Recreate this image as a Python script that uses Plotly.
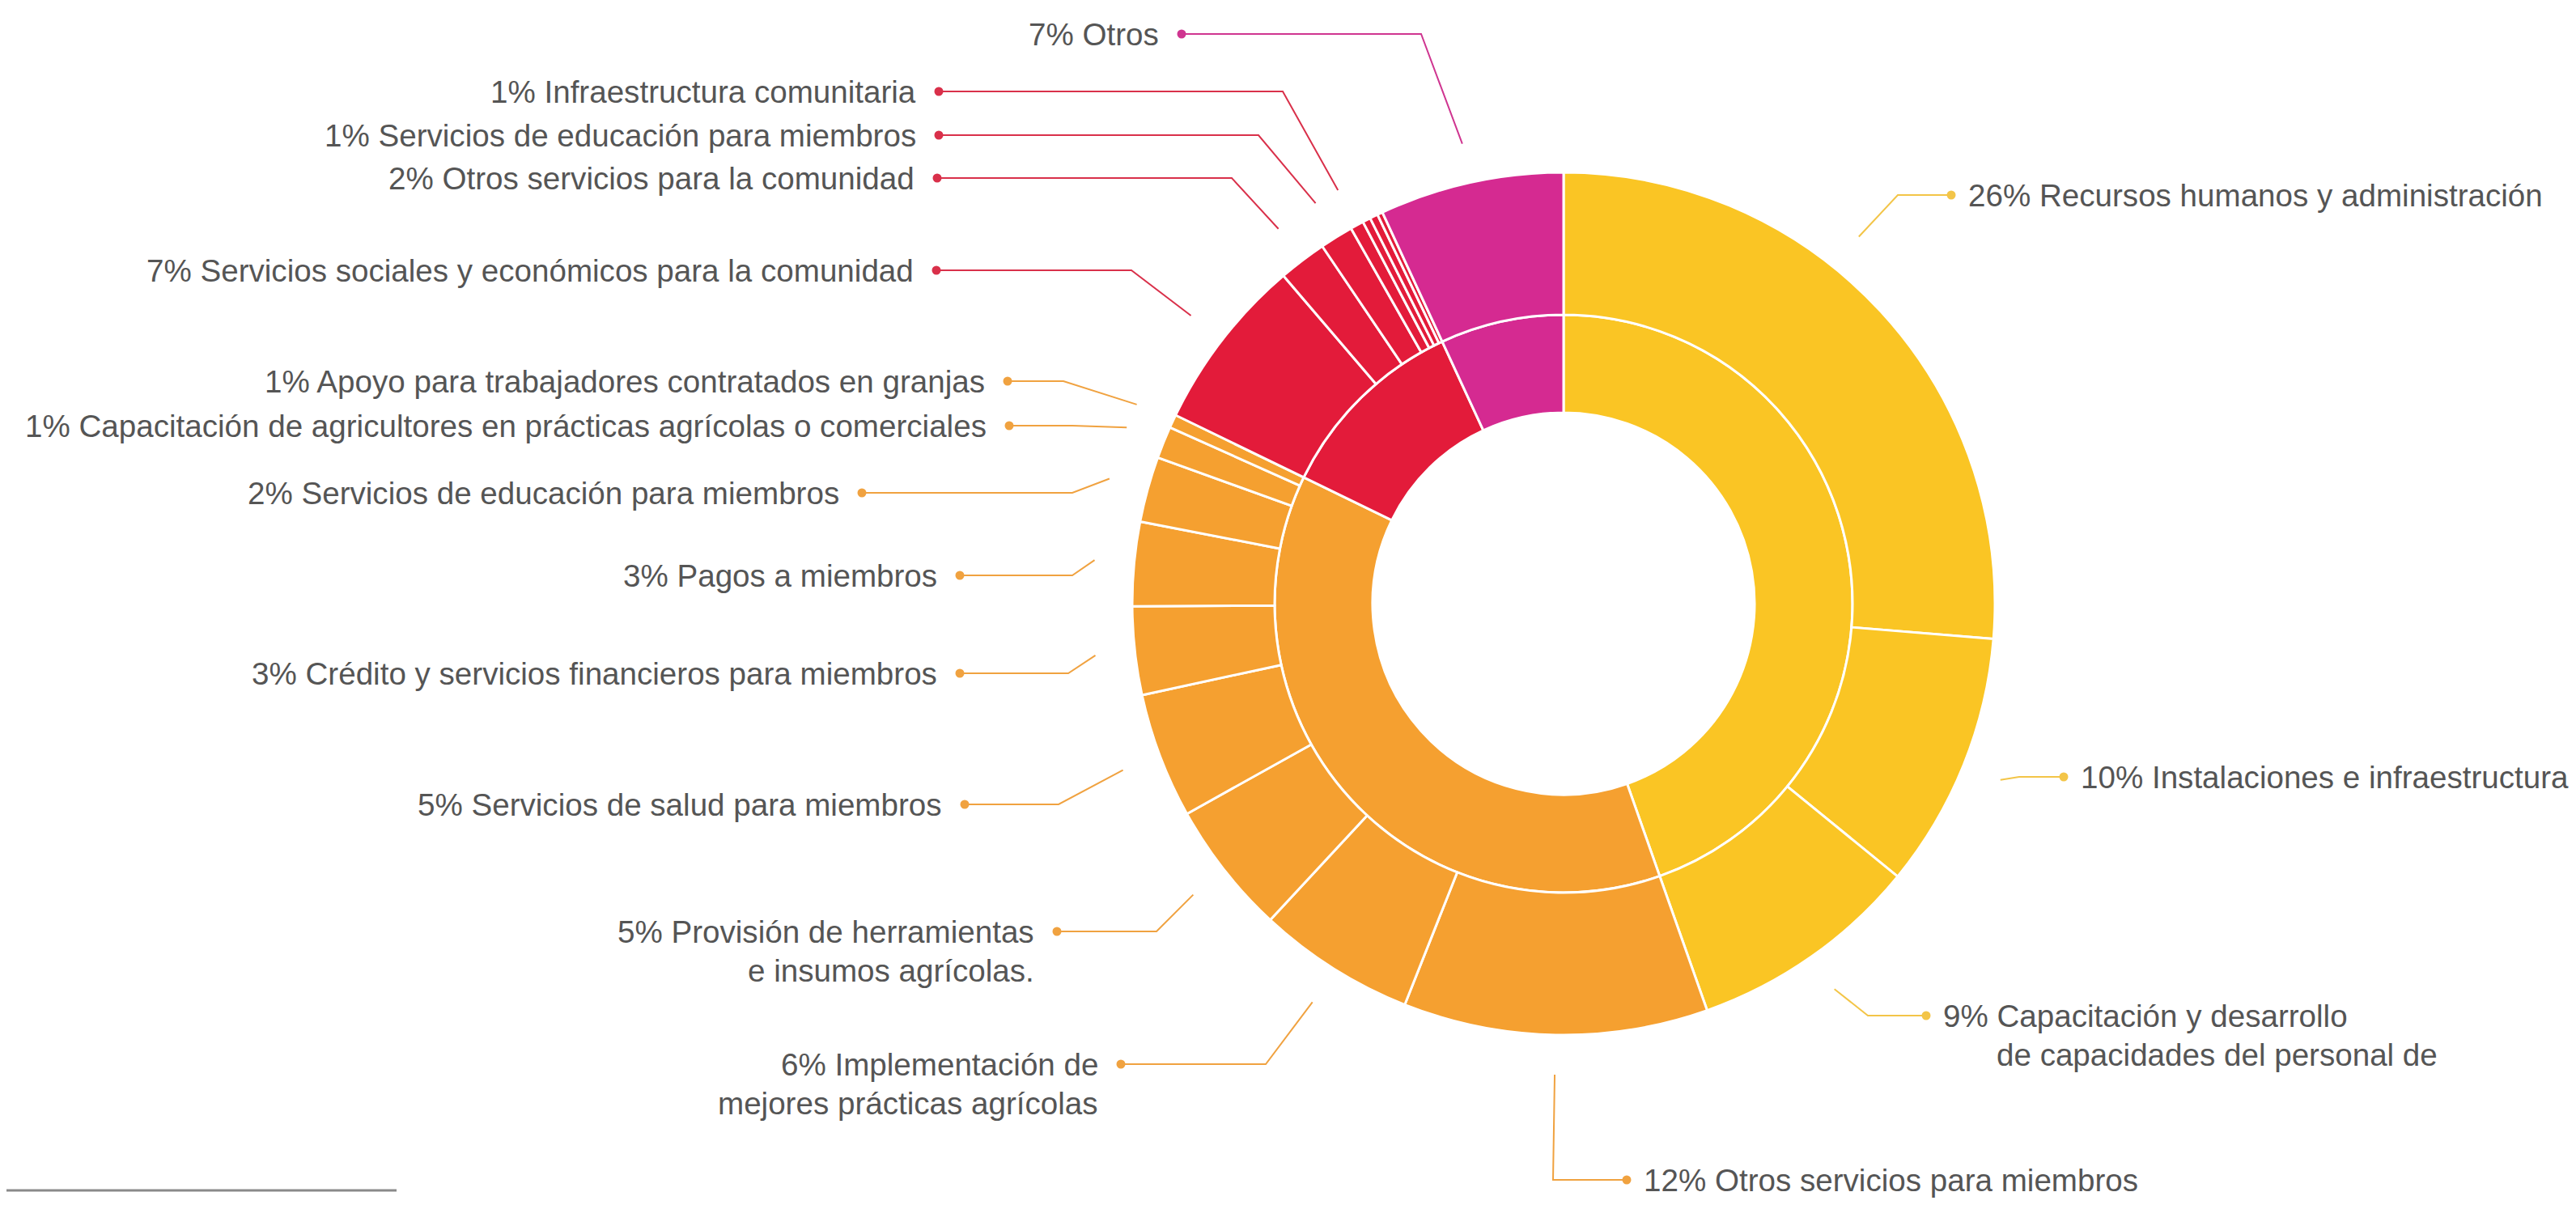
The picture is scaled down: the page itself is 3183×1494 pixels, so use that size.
import math
import plotly.graph_objects as go

# ---------------- data ----------------
GROUP_NAMES = ["Administración", "Servicios para miembros", "Servicios para la comunidad", "Otros"]
GROUP_VALUES = [44.6, 37.6, 10.9, 6.9]

SUB_GROUP = [0, 0, 0,
             1, 1, 1, 1, 1, 1, 1, 1, 1,
             2, 2, 2, 2, 2, 2, 2,
             3]
SUB_VALUES = [26.3, 9.6, 8.7,
              11.4, 5.9, 5.0, 4.7, 3.3, 3.15, 2.45, 1.2, 0.5,
              6.55, 1.8, 1.25, 0.5, 0.3, 0.3, 0.2,
              6.9]
SUB_LABELS = [
    "26% Recursos humanos y administración",
    "10% Instalaciones e infraestructura",
    "9% Capacitación y desarrollo|de capacidades del personal de",
    "12% Otros servicios para miembros",
    "6% Implementación de|mejores prácticas agrícolas",
    "5% Provisión de herramientas|e insumos agrícolas.",
    "5% Servicios de salud para miembros",
    "3% Crédito y servicios financieros para miembros",
    "3% Pagos a miembros",
    "2% Servicios de educación para miembros",
    "1% Capacitación de agricultores en prácticas agrícolas o comerciales",
    "1% Apoyo para trabajadores contratados en granjas",
    "7% Servicios sociales y económicos para la comunidad",
    "2% Otros servicios para la comunidad",
    "1% Servicios de educación para miembros",
    "1% Infraestructura comunitaria",
    "", "", "",
    "7% Otros",
]

# ---------------- styles / layout ----------------
W, H = 3183, 1494          # browser window
OFF = 8                    # default page (body) margin
FW, FH = W - OFF, H - OFF  # figure size
CX, CY = 1932, 746         # ring centre, page pixels
R_OUT, R_MID, R_HOLE = 533, 357, 236
R_LEADER = 582
GROUP_COLORS = ["#FAC524", "#F5A030", "#E31B3A", "#D52A91"]
LINE_COLORS = ["#F3C548", "#F0A240", "#D9304A", "#CF3590"]
TEXT_COLOR = "#555555"
FONT = "Liberation Sans, Arial, Helvetica, sans-serif"
FONT_SIZE = 38.6
LINE_GAP = 48
PAD_L, PAD_R = 26, 19

# index -> (side, label y px, dot x px, elbow x px, anchor fraction in slice, 2nd-line indent px)
LABEL_LAYOUT = {
    0: ("R", 241, 2411, 2345, 0.41, 0),
    1: ("R", 960, 2550, 2495, 0.5, 0),
    2: ("R", 1255, 2380, 2308, 0.5, 66),
    3: ("R", 1458, 2010, 1919, 0.5, 0),
    4: ("L", 1315, 1385, 1564, 0.5, 0),
    5: ("L", 1151, 1306, 1429, 0.5, 0),
    6: ("L", 994, 1192, 1308, 0.5, 0),
    7: ("L", 832, 1186, 1320, 0.5, 0),
    8: ("L", 711, 1186, 1325, 0.5, 0),
    9: ("L", 609, 1065, 1325, 0.5, 0),
    10: ("L", 526, 1247, 1325, 0.5, 0),
    11: ("L", 471, 1245, 1314, 0.5, 0),
    12: ("L", 334, 1157, 1398, 0.5, 0),
    13: ("L", 220, 1158, 1522, 0.5, 0),
    14: ("L", 167, 1160, 1555, 0.5, 0),
    15: ("L", 113, 1160, 1585, 0.5, 0),
    19: ("L", 42, 1460, 1756, 0.5, 0),
}


def domain(r):
    x0, x1 = CX - r - OFF, CX + r - OFF
    y0, y1 = CY - r - OFF, CY + r - OFF
    return dict(x=[x0 / FW, x1 / FW], y=[1 - y1 / FH, 1 - y0 / FH])


fig = go.Figure()

# inner ring (groups)
fig.add_trace(go.Pie(
    values=GROUP_VALUES, labels=GROUP_NAMES, sort=False, direction="clockwise", rotation=0,
    hole=R_HOLE / R_MID, domain=domain(R_MID), textinfo="none", showlegend=False,
    marker=dict(colors=GROUP_COLORS, line=dict(color="white", width=3)),
    hovertemplate="%{label}: %{value}%<extra></extra>",
))

# outer ring (subcategories)
sub_ids = [f"{i + 1}. {(SUB_LABELS[i] or GROUP_NAMES[g]).replace('|', ' ')}" for i, g in enumerate(SUB_GROUP)]
fig.add_trace(go.Pie(
    values=SUB_VALUES, labels=sub_ids, sort=False, direction="clockwise", rotation=0,
    hole=R_MID / R_OUT, domain=domain(R_OUT), textinfo="none", showlegend=False,
    marker=dict(colors=[GROUP_COLORS[g] for g in SUB_GROUP], line=dict(color="white", width=3)),
    hovertemplate="%{label}<extra></extra>",
))

# leader lines, dots and labels
total = sum(SUB_VALUES)
cum = 0.0
annotations = []
for i, v in enumerate(SUB_VALUES):
    start = cum
    cum += v
    if i not in LABEL_LAYOUT:
        continue
    side, ly, dx, ex, frac, indent = LABEL_LAYOUT[i]
    theta = 2 * math.pi * (start + frac * v) / total
    px = CX + R_LEADER * math.sin(theta)
    py = CY - R_LEADER * math.cos(theta)
    col = LINE_COLORS[SUB_GROUP[i]]
    fig.add_trace(go.Scatter(
        x=[px, ex, dx], y=[py, ly, ly], mode="lines",
        line=dict(color=col, width=2), hoverinfo="skip", showlegend=False,
    ))
    fig.add_trace(go.Scatter(
        x=[dx], y=[ly], mode="markers", marker=dict(color=col, size=11),
        hoverinfo="skip", showlegend=False,
    ))
    for k, line in enumerate(SUB_LABELS[i].split("|")):
        if side == "L":
            tx, anchor = dx - PAD_L, "right"
        else:
            tx, anchor = dx + PAD_R + (indent if k > 0 else 0), "left"
        annotations.append(dict(
            x=tx, y=ly + k * LINE_GAP, xref="x", yref="y", text=line, showarrow=False,
            xanchor=anchor, yanchor="middle", font=dict(family=FONT, size=FONT_SIZE, color=TEXT_COLOR),
        ))

fig.update_layout(
    width=FW, height=FH, margin=dict(l=0, r=0, t=0, b=0),
    paper_bgcolor="white", plot_bgcolor="white",
    xaxis=dict(range=[OFF, OFF + FW], visible=False, fixedrange=True),
    yaxis=dict(range=[OFF + FH, OFF], visible=False, fixedrange=True),
    annotations=annotations,
    shapes=[dict(type="line", xref="x", yref="y", x0=OFF, x1=490, y0=1471, y1=1471,
                 line=dict(color="#8a8a8a", width=3))],
    showlegend=False,
)

fig.write_html("out.html")
